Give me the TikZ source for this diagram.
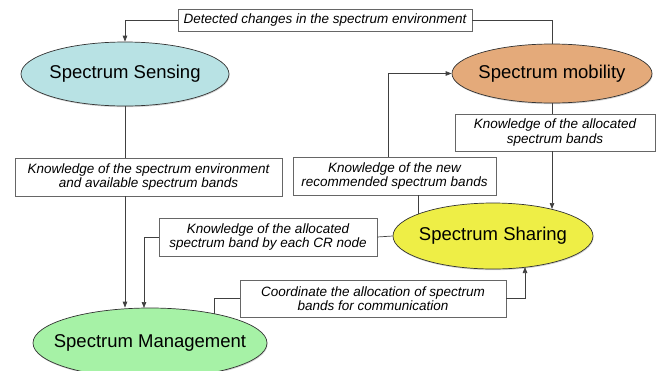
\documentclass[tikz,border=0pt]{standalone}
\usepackage{fontspec}
\setmainfont{Liberation Sans}
\usetikzlibrary{shapes.geometric,arrows.meta,shadows}
\definecolor{sensecol}{RGB}{184,226,228}
\definecolor{mobcol}{RGB}{228,170,122}
\definecolor{sharecol}{RGB}{238,238,70}
\definecolor{managecol}{RGB}{166,242,166}
\begin{document}
\begin{tikzpicture}[x=1pt,y=-1pt,
    bigfont/.style={font=\fontsize{18.5}{20}\selectfont},
    blob/.style={ellipse, draw=black!80, line width=0.7pt, inner sep=0pt,
      drop shadow={shadow xshift=0.6pt,shadow yshift=-1.2pt,opacity=0.35},
      label={[bigfont]center:#1}},
    note/.style={draw=black!60, line width=0.7pt, fill=white, align=center,
      inner sep=0pt, font=\fontsize{13.5}{14.5}\selectfont\itshape},
    link/.style={draw=black!75, line width=0.7pt},
    arr/.style={link, -{Triangle[length=6pt,width=4.5pt]}}]
  \clip (0,0) rectangle (658,370);
  % the four functions
  \node[blob=Spectrum Sensing, fill=sensecol, minimum width=208pt, minimum height=64pt] (sense) at (125,74) {};
  \node[blob=Spectrum mobility, fill=mobcol, minimum width=200pt, minimum height=59pt] (mob) at (552,73.5) {};
  \node[blob=Spectrum Sharing, fill=sharecol, minimum width=200pt, minimum height=66pt] (share) at (493,236) {};
  \node[blob=Spectrum Management, fill=managecol, minimum width=234pt, minimum height=70pt] (manage) at (150,343) {};
  % what flows between them
  \node[note, minimum width=294pt, minimum height=22pt] (topbox) at (325,20) {Detected changes in the spectrum environment};
  \node[note, minimum width=267pt, minimum height=38pt] (envbox) at (148.5,177) {Knowledge of the spectrum environment\\and available spectrum bands};
  \node[note, minimum width=200pt, minimum height=37pt] (rightbox) at (555,132.5) {Knowledge of the allocated\\spectrum bands};
  \node[note, minimum width=203pt, minimum height=38pt] (newbox) at (394.5,176) {Knowledge of the new\\recommended spectrum bands};
  \node[note, minimum width=218pt, minimum height=38pt] (crbox) at (268,237) {Knowledge of the allocated\\spectrum band by each CR node};
  \node[note, minimum width=266pt, minimum height=37pt] (coordbox) at (373,298.5) {Coordinate the allocation of spectrum\\bands for communication};
  % bend and end points
  \coordinate (crdrop) at (144,308);
  \coordinate (newfoot) at (418,214);
  \coordinate (newhead) at (388,176);
  \coordinate (sharetop) at (552,209);
  \coordinate (mgfoot) at (214,314);
  \coordinate (sharebot) at (525,267);
  \begin{scope}
    \draw[arr] (topbox.west) -| (sense.north);
    \draw[link] (topbox.east) -| (mob.north);
    \draw[link] (sense.south) -- (sense.south |- envbox.north);
    \draw[arr] (sense.south |- envbox.south) -- (sense.south |- manage.north);
    \draw[link] (share.west) -- (crbox.east);
    \draw[arr] (crbox.west) -| (crdrop);
    \draw[link] (newbox.south -| newfoot) -- (newfoot);
    \draw[arr] (newbox.north -| newhead) |- (mob.west);
    \draw[link] (mob.south) -- (mob.south |- rightbox.north);
    \draw[arr] (mob.south |- rightbox.south) -- (sharetop);
    \draw[link] (mgfoot) |- (coordbox.west);
    \draw[arr] (coordbox.east) -| (sharebot);
  \end{scope}
\end{tikzpicture}
\end{document}
